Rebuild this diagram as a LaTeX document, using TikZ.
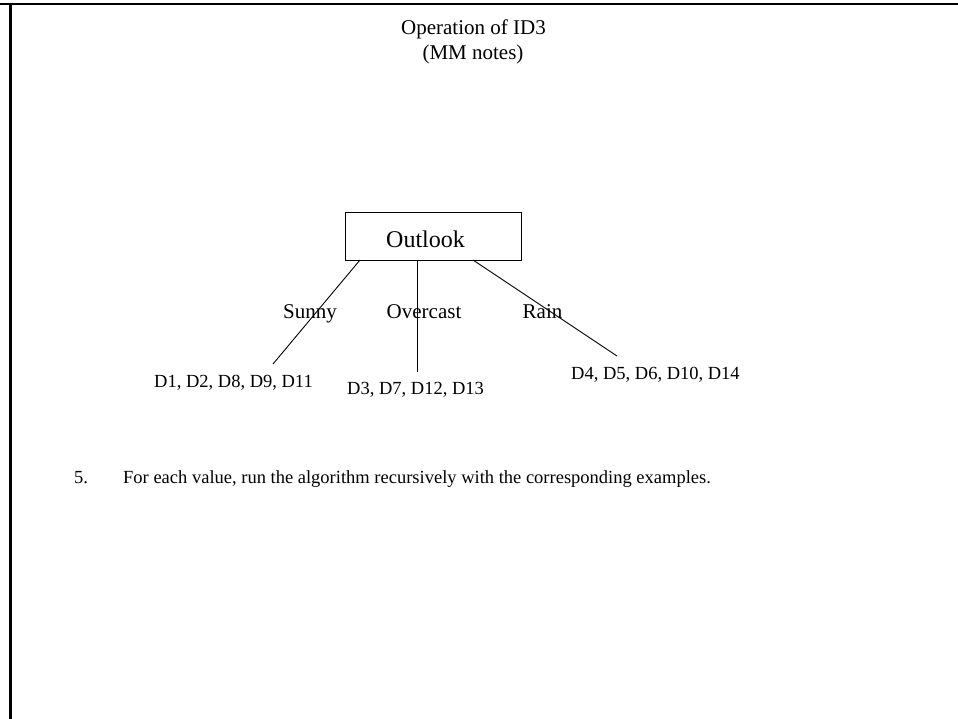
\documentclass[tikz,border=0pt]{standalone}
\usepackage{fontspec}
\setmainfont{Liberation Serif}
\begin{document}
\begin{tikzpicture}[x=1pt,y=-1pt,
  lbl/.style={inner sep=0pt,anchor=base west,font=\fontsize{21}{25}\selectfont},
  leaf/.style={inner sep=0pt,anchor=base west,font=\fontsize{18.5}{22}\selectfont},
  titletxt/.style={inner sep=0pt,anchor=base,font=\fontsize{21}{25}\selectfont},
  attrbox/.style={draw,line width=0.9pt,minimum width=176pt,minimum height=48pt,inner sep=0pt,font=\fontsize{24}{28}\selectfont},
  edge/.style={line width=0.9pt}]
\useasboundingbox (0,0) rectangle (958,719);
% frame
\draw[line width=2pt] (0,4) -- (958,4);
\draw[line width=2.6pt] (10.5,4) -- (10.5,719);
% title
\node[titletxt] (t1) at (473.5,35) {Operation of ID3};
\node[titletxt] (t2) at (473,60) {(MM notes)};
% root
\node[attrbox] (root) at (433,236) {};
\node[inner sep=0pt,anchor=base west,font=\fontsize{24}{28}\selectfont] (rootlbl) at (386,248) {Outlook};
% branch ends
\coordinate (s0) at (360,260);
\coordinate (s1) at (273,364);
\coordinate (o0) at (417,260);
\coordinate (o1) at (417,372);
\coordinate (r0) at (473,260);
\coordinate (r1) at (617,356);
\draw[edge] (s0) -- (s1);
\draw[edge] (o0) -- (o1);
\draw[edge] (r0) -- (r1);
% branch labels
\node[lbl] (sunny) at (283,318) {Sunny};
\node[lbl] (overcast) at (386.5,318) {Overcast};
\node[lbl] (rain) at (522.5,318) {Rain};
% leaves
\node[leaf] (l1) at (154,387) {D1, D2, D8, D9, D11};
\node[leaf] (l2) at (347,394) {D3, D7, D12, D13};
\node[leaf] (l3) at (571,379) {D4, D5, D6, D10, D14};
% step text
\node[leaf] (n5) at (74,483) {5.};
\node[leaf] (step) at (123,483) {For each value, run the algorithm recursively with the corresponding examples.};
\end{tikzpicture}
\end{document}
